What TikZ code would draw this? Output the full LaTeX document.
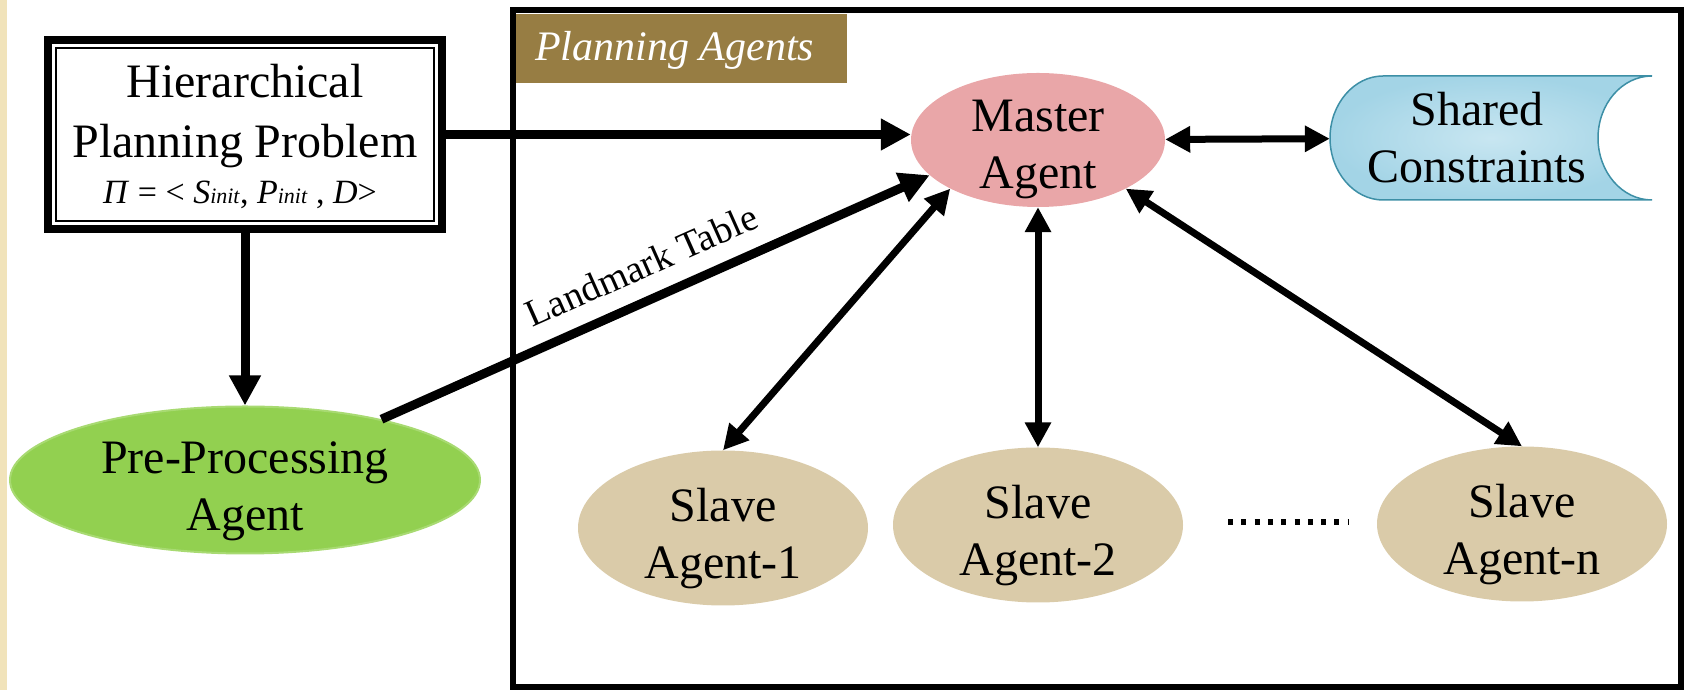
\documentclass[tikz,border=0pt]{standalone}
\usepackage{fontspec}
\setmainfont{Liberation Serif}
\usetikzlibrary{arrows.meta,shapes.geometric,calc}
\definecolor{stripc}{HTML}{F1E3BA}
\definecolor{labelc}{HTML}{977D43}
\definecolor{masterc}{HTML}{E9A6A8}
\definecolor{prec}{HTML}{92D050}
\definecolor{preb}{HTML}{A8DA72}
\definecolor{slavec}{HTML}{DACBA9}
\definecolor{sharedin}{HTML}{C8E6F1}
\definecolor{sharedout}{HTML}{A3D4E6}
\definecolor{sharedb}{HTML}{3D8FA6}
\begin{document}
\begin{tikzpicture}[x=1pt,y=1pt,
  txt/.style={align=center, inner sep=0pt, anchor=north, font=\fontsize{48}{57}\selectfont},
  agent/.style={ellipse, inner sep=0pt, draw=none},
  slave/.style={agent, fill=slavec, minimum width=290, minimum height=155},
  heavy/.style={line width=9pt, -{Triangle[length=30pt,width=30pt]}},
  dbl/.style={line width=7pt, {Triangle[length=25pt,width=25pt]}-{Triangle[length=25pt,width=25pt]}},
]
\useasboundingbox (0,0) rectangle (1689,690);
\fill[stripc] (0,0) rectangle (7,690);

% frame of planning agents
\node[draw, line width=5.5pt, minimum width=1168, minimum height=677, inner sep=0] (frame) at (1097,341.5) {};
\node[fill=labelc, minimum width=331, minimum height=69, inner sep=0, anchor=north west] (lbl) at (516,676) {};
\node[anchor=base west, inner sep=0, text=white, font=\itshape\fontsize{42}{48}\selectfont] (lbltext) at (535,629) {Planning Agents};

% problem box
\node[draw, line width=8pt, fill=white, minimum width=394, minimum height=189, inner sep=0] (problem) at (245,555.5) {};
\draw[line width=2pt] ([shift={(12,-12)}]problem.north west) rectangle ([shift={(-12,12)}]problem.south east);
\node[txt, font=\fontsize{48}{60}\selectfont] (problemtext) at (245,625.8) {Hierarchical\\Planning Problem};
\node[anchor=base, inner sep=0, font=\fontsize{34}{38}\selectfont] (formula) at (240,486)
  {\textit{Π} = < \textit{S}{\fontsize{22}{24}\selectfont\textit{init}}, \textit{P}{\fontsize{22}{24}\selectfont\textit{init}} , \textit{D}>};

% pre-processing agent
\node[agent, fill=prec, draw=preb, line width=2pt, minimum width=470, minimum height=147] (pre) at (245,210) {};
\node[txt] (pretext) at ([yshift=38]pre.center) {Pre-Processing\\Agent};

% master agent
\node[agent, fill=masterc, minimum width=254, minimum height=134] (master) at (1038,550) {};
\node[txt] (mastertext) at ([yshift=40]master.center) {Master\\Agent};

% shared constraints
\node[inner sep=0, minimum width=322, minimum height=124] (shared) at (1491,552) {};
\path[shift={(shared.center)}, draw=sharedb, line width=1.5pt, inner color=sharedin, outer color=sharedout]
  (-108,62) -- (161,62) .. controls (131,62) and (107,34) .. (107,0)
  .. controls (107,-34) and (131,-62) .. (161,-62) -- (-108,-62)
  .. controls (-137,-62) and (-161,-34) .. (-161,0)
  .. controls (-161,34) and (-137,62) .. (-108,62) -- cycle;
\node[txt] (sharedtext) at ([shift={(-14,46)}]shared.center) {Shared\\Constraints};

% slave agents
\node[slave] (slave1) at (723,162) {};
\node[txt] (slave1text) at ([yshift=40]slave1.center) {Slave\\Agent-1};
\node[slave] (slave2) at (1038,165) {};
\node[txt] (slave2text) at ([yshift=40]slave2.center) {Slave\\Agent-2};
\node[slave] (slaven) at (1522,166) {};
\node[txt] (slaventext) at ([yshift=40]slaven.center) {Slave\\Agent-n};

\coordinate (dotsA) at (1228,168);
\coordinate (dotsB) at (1348,168);
\draw[line width=6pt, dash pattern=on 5pt off 8.3pt] (dotsA) -- (dotsB);

% connectors
\draw[heavy] (problem.east) -- (problem.east -| master.west);
\draw[heavy] (problem.south) -- (pre.north);
\draw[heavy] (pre) -- node[sloped, pos=0.5, above=17pt, inner sep=0, font=\fontsize{38}{40}\selectfont] (lmlabel) {Landmark Table} (master.198);
\draw[dbl] (master) -- (shared);
\draw[dbl] (slave1.north) -- (master.209);
\draw[dbl] (master.south) -- (slave2.north);
\draw[dbl] (master.331) -- (slaven.north);
\end{tikzpicture}
\end{document}
